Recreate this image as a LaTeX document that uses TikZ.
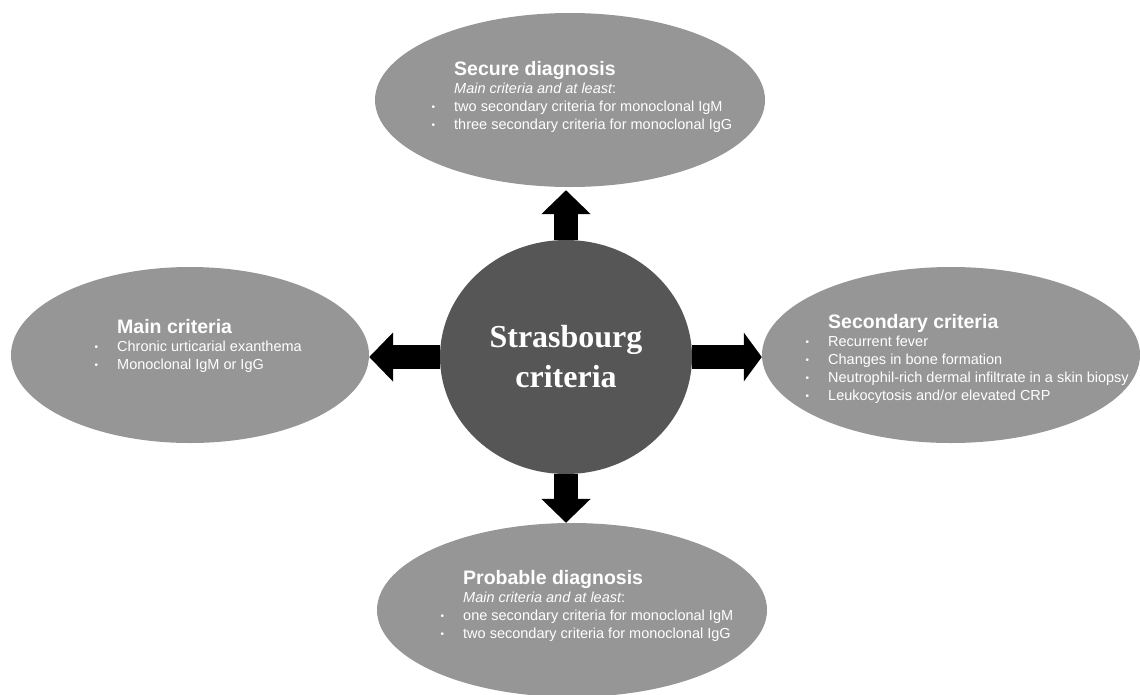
\documentclass[tikz,border=0pt]{standalone}
\usepackage{fontspec}
\setmainfont{Liberation Sans}
\newfontfamily\serifbold{Liberation Serif}
\usetikzlibrary{shapes.geometric,arrows.meta}
\definecolor{ellgray}{RGB}{150,150,150}
\definecolor{circgray}{RGB}{86,86,86}
\newcommand\ttl[1]{\hbox{\fontsize{19.5}{18}\selectfont\bfseries #1}}
\newcommand\itl[1]{\hbox{\fontsize{14.5}{18}\selectfont\itshape #1\upshape:}}
\newcommand\bul[1]{\hbox{\fontsize{14.5}{18}\selectfont\llap{\raisebox{1pt}{\fontsize{10}{10}\selectfont•}\hspace{19pt}}#1}}
\newcommand\blk[1]{\vtop{\baselineskip=18pt\lineskiplimit=-20pt\lineskip=0pt #1}}
\tikzset{
  bubble/.style={ellipse, fill=ellgray, draw=none, inner sep=0pt},
  hub/.style={ellipse, fill=circgray, draw=none, inner sep=0pt, text=white,
    align=center, font=\serifbold\bfseries\fontsize{32}{40}\selectfont},
  txt/.style={text=white, inner sep=0pt, anchor=base west},
  blockarrow/.style={line width=24pt, black, -{Triangle[length=24pt,width=48pt]}},
}
\begin{document}
\begin{tikzpicture}[x=1pt,y=-1pt]
\useasboundingbox (0,0) rectangle (1140,694);
\node[bubble, minimum width=390pt, minimum height=174pt] (T) at (570,100) {};
\node[bubble, minimum width=358pt, minimum height=176pt] (L) at (190,355) {};
\node[bubble, minimum width=378pt, minimum height=176pt] (R) at (951,355) {};
\node[bubble, minimum width=390pt, minimum height=174pt] (B) at (572,610) {};
\node[hub, minimum width=252pt, minimum height=234pt] (C) at (566,357) {Strasbourg\\criteria};

\node[txt] (tT) at (454,75) {\blk{\ttl{Secure diagnosis}\itl{Main criteria and at least}\bul{two secondary criteria for monoclonal IgM}\bul{three secondary criteria for monoclonal IgG}}};
\node[txt] (tL) at (117,333) {\blk{\ttl{Main criteria}\bul{Chronic urticarial exanthema}\bul{Monoclonal IgM or IgG}}};
\node[txt] (tR) at (828,328) {\blk{\ttl{Secondary criteria}\bul{Recurrent fever}\bul{Changes in bone formation}\bul{Neutrophil-rich dermal infiltrate in a skin biopsy}\bul{Leukocytosis and/or elevated CRP}}};
\node[txt] (tB) at (463,584) {\blk{\ttl{Probable diagnosis}\itl{Main criteria and at least}\bul{one secondary criteria for monoclonal IgM}\bul{two secondary criteria for monoclonal IgG}}};

\draw[blockarrow] (C.north) -- ([yshift=-3pt]C.north |- T.south);
\draw[blockarrow] (C.south) -- (C.south |- B.north);
\draw[blockarrow] (C.west) -- (C.west -| L.east);
\draw[blockarrow, -{Triangle[length=18pt,width=48pt]}] (C.east) -- (C.east -| R.west);
\end{tikzpicture}
\end{document}
